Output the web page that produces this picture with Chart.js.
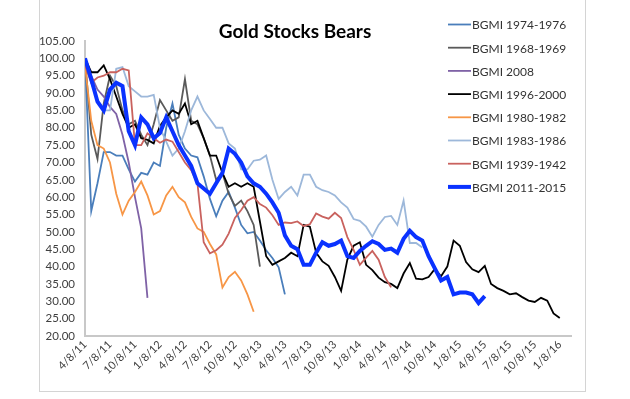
<!DOCTYPE html>
<html>
<head>
<meta charset="utf-8">
<script src="https://cdn.jsdelivr.net/npm/chart.js@4/dist/chart.umd.min.js"></script>
<style>
  body { margin: 0; background: #fff; }
  #wrap { position: relative; width: 630px; height: 399px; }
  #frame { position: absolute; left: 39px; top: -2px; width: 547px; height: 394px; border: 1px solid #d4d4d4; box-sizing: border-box; }
</style>
</head>
<body>
<div id="wrap">
  <div id="frame"></div>
  <canvas id="bearChart" width="630" height="399"></canvas>
</div>
<script>
var chartTitle = 'Gold Stocks Bears';

// quarter tick labels on the date axis
var tickLabels = ['4/8/11', '7/8/11', '10/8/11', '1/8/12', '4/8/12', '7/8/12', '10/8/12', '1/8/13',
  '4/8/13', '7/8/13', '10/8/13', '1/8/14', '4/8/14', '7/8/14', '10/8/14', '1/8/15', '4/8/15',
  '7/8/15', '10/8/15', '1/8/16'];

// one sample every quarter of a quarter (about 3 weeks)
var sampleStep = 0.25;

var seriesNames = ['BGMI 1974-1976', 'BGMI 1968-1969', 'BGMI 2008', 'BGMI 1996-2000',
  'BGMI 1980-1982', 'BGMI 1983-1986', 'BGMI 1939-1942', 'BGMI 2011-2015'];

var bgmi1974 = [100, 56, 64, 73, 73, 72, 72, 68, 64.5, 67, 66.5, 70, 69, 80, 87, 78, 74, 72, 71.5, 66,
  59.5, 54.5, 59, 61.5, 57, 52, 49.6, 50, 47.5, 44.7, 42.5, 39.8, 32];

var bgmi1968 = [100, 78, 71, 87, 95, 92, 85, 81, 82, 78, 75, 81, 88, 85, 82, 83, 94, 82, 81, 77,
  72, 65, 67, 61, 57.5, 59, 56, 52, 40];

var bgmi2008 = [100, 95, 91, 89, 86, 84, 78, 70, 60, 51, 31];

var bgmi1996 = [100, 96, 96, 98, 94, 89, 84, 80, 81, 77, 76.5, 75.5, 80.5, 83, 85, 84, 87, 81, 82, 77,
  72, 72, 67, 63, 64, 63, 64, 63, 53, 43, 40.5, 41.5, 42.5, 44, 43, 52, 51.5, 44, 41.5, 40.2,
  37, 33, 42, 46, 47, 40.5, 39, 36.8, 35.5, 35, 33.8, 38, 41, 36.5, 36.3, 37, 39.3, 37.2, 40, 47.5,
  46, 41.3, 39.2, 38.4, 40.2, 35, 33.8, 33, 32, 32.3, 31.2, 30.2, 29.8, 31, 30.2, 26.5, 25.2];

var bgmi1980 = [98, 82, 75, 74, 70, 61, 55, 59, 61.5, 64.5, 60.5, 55, 56, 60.5, 63, 60, 58.5, 54.3, 51, 50,
  46.5, 43.5, 34, 37, 38.5, 36, 32, 27];

var bgmi1983 = [100, 93, 88, 85, 85, 97, 97.5, 92, 90.5, 89, 89, 89.5, 80, 76, 72, 74, 79, 85, 89, 85,
  82.5, 80, 80, 75.5, 74, 68, 68, 70.5, 70.8, 72, 65, 59.5, 61.5, 63, 60.5, 66.5, 66.5, 63, 62, 61.5,
  60.5, 58.5, 57, 53.7, 53.2, 51.5, 48.6, 52, 54.3, 54.6, 52, 59, 46.8, 46.8, 45.5];

var bgmi1939 = [98, 93, 94.5, 95, 96, 96, 97, 96.5, 75, 75, 78.4, 77, 75.7, 76.6, 76, 73, 70, 67.8, 64, 47,
  43.8, 44.7, 46.3, 49.5, 54, 56.3, 59, 60, 58, 57, 54.8, 52, 52.7, 52.5, 53, 51.7, 52.2, 55.3, 54.4, 53.8,
  55.5, 54, 48.5, 44.8, 40.5, 42.6, 44.5, 42, 37, 34];

var bgmi2011 = [100, 94, 87.5, 85, 91, 93, 92, 79, 75, 83, 81, 77, 78.5, 83, 79, 75, 72, 69, 64, 62.5,
  61, 64, 67, 74, 72.5, 70, 66, 64, 63, 61, 58.5, 55.5, 49, 46, 45, 40.5, 40.5, 44, 47, 46,
  46.5, 47.5, 43, 42.5, 44.5, 46, 47.3, 46.5, 44.8, 45.2, 44, 48, 50.3, 48.5, 47.5, 43, 39.5, 36, 37, 32,
  32.5, 32.5, 32, 29.5, 31.5];

var seriesValues = [bgmi1974, bgmi1968, bgmi2008, bgmi1996, bgmi1980, bgmi1983, bgmi1939, bgmi2011];
var seriesColors = ['#4a7ebb', '#5a5a5a', '#7f62a6', '#000000', '#f79646', '#9db8da', '#c9625e', '#0a32ff'];
var seriesWidths = [1.8, 1.8, 1.8, 1.8, 1.8, 1.8, 1.8, 4];

var datasets = seriesNames.map(function(name, s) {
  return {
    label: name,
    data: seriesValues[s].map(function(v, i) { return {x: i * sampleStep, y: v}; }),
    borderColor: seriesColors[s],
    backgroundColor: seriesColors[s],
    borderWidth: seriesWidths[s],
    pointRadius: 0,
    tension: 0,
    fill: false,
    order: seriesNames.length - 1 - s
  };
});

var overlay = {
  id: 'overlay',
  afterDraw: function(chart) {
    var ctx = chart.ctx;
    ctx.save();
    ctx.fillStyle = '#000';
    ctx.font = 'bold 19px Lato';
    ctx.textAlign = 'center';
    ctx.textBaseline = 'middle';
    ctx.fillText(chartTitle, 295, 32);

    ctx.font = '12px Lato';
    ctx.textAlign = 'left';
    ctx.fillStyle = '#333';
    chart.data.datasets.forEach(function(ds, i) {
      var y = 24.5 + i * 23.2;
      ctx.strokeStyle = ds.borderColor;
      ctx.lineWidth = ds.borderWidth;
      ctx.beginPath();
      ctx.moveTo(448, y);
      ctx.lineTo(471, y);
      ctx.stroke();
      ctx.fillText(ds.label, 472, y + 1);
    });
    ctx.restore();
  }
};

var ctx = document.getElementById('bearChart').getContext('2d');
var bearChart = new Chart(ctx, {
  type: 'line',
  data: { datasets: datasets },
  plugins: [overlay],
  options: {
    responsive: false,
    animation: false,
    layout: { padding: { left: 0, right: 59, top: 41, bottom: 0 } },
    plugins: { legend: { display: false }, tooltip: { enabled: false } },
    scales: {
      x: {
        type: 'linear',
        min: 0,
        max: 19.45,
        afterFit: function(scale) { scale.height = 63; },
        afterBuildTicks: function(scale) {
          scale.ticks = tickLabels.map(function(t, i) { return {value: i}; });
        },
        ticks: {
          autoSkip: false,
          maxRotation: 45,
          minRotation: 45,
          padding: 2,
          color: '#404040',
          font: { family: 'Lato', size: 11 },
          callback: function(v) { return tickLabels[v]; }
        },
        grid: { drawOnChartArea: false, drawTicks: false, color: 'rgba(0,0,0,0)' },
        border: { color: '#c8c8c8', width: 2 }
      },
      y: {
        min: 20,
        max: 105,
        afterFit: function(scale) { scale.width = 85; },
        ticks: {
          autoSkip: false,
          stepSize: 5,
          padding: 10,
          color: '#404040',
          font: { family: 'Lato', size: 11.5 },
          callback: function(v) { return v.toFixed(2); }
        },
        grid: { drawOnChartArea: false, drawTicks: false, color: 'rgba(0,0,0,0)' },
        border: { color: '#c8c8c8', width: 2 }
      }
    }
  }
});
</script>
</body>
</html>
